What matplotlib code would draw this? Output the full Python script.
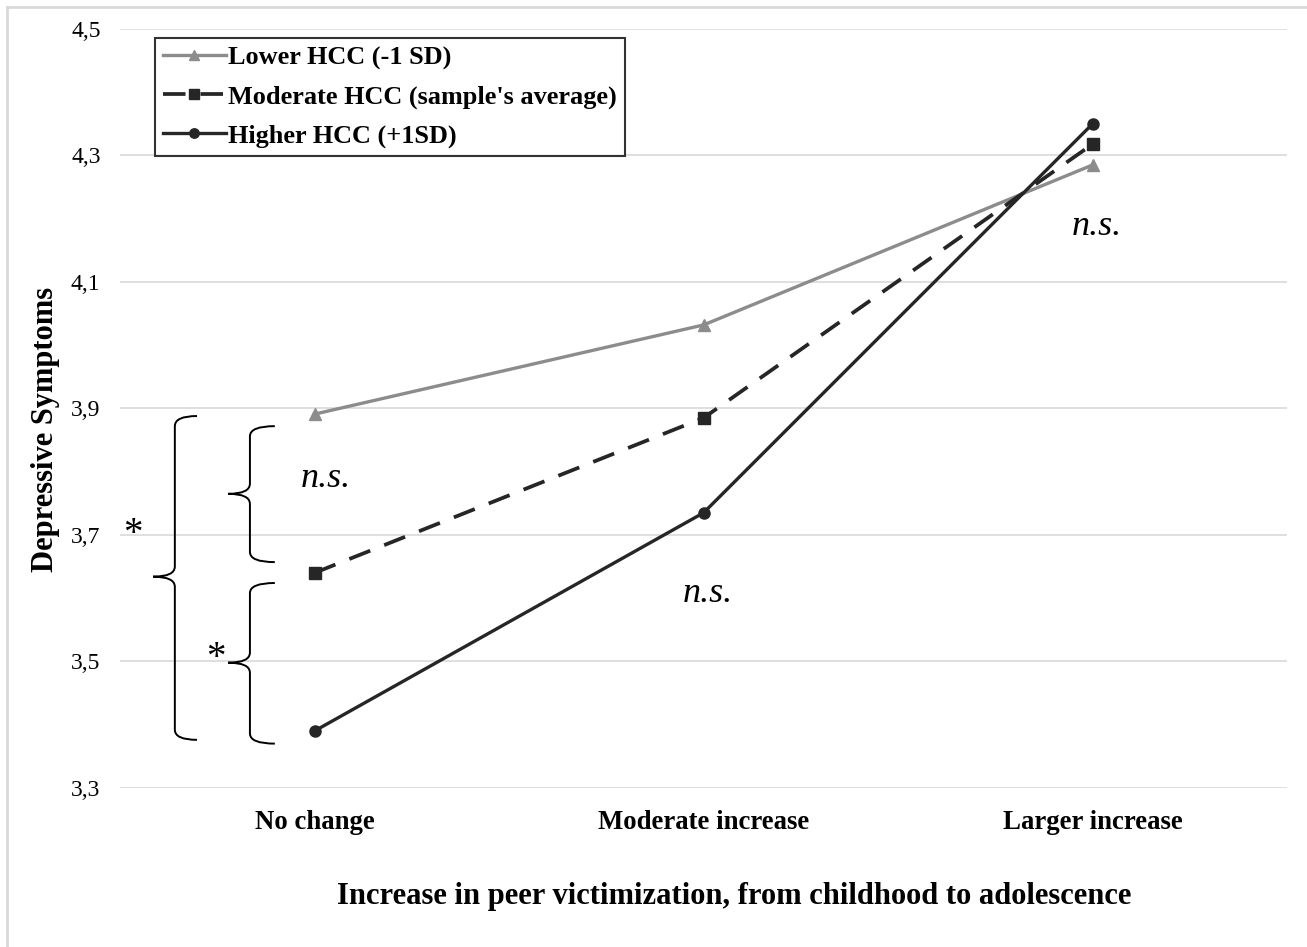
import matplotlib.pyplot as plt
from matplotlib.path import Path
from matplotlib.patches import PathPatch
from matplotlib.lines import Line2D

categories = ["No change", "Moderate increase", "Larger increase"]
lower_hcc = [3.891, 4.032, 4.285]
moderate_hcc = [3.640, 3.885, 4.318]
higher_hcc = [3.390, 3.735, 4.350]
series_labels = ["Lower HCC (-1 SD)", "Moderate HCC (sample's average)", "Higher HCC (+1SD)"]
y_ticks = [3.3, 3.5, 3.7, 3.9, 4.1, 4.3, 4.5]

plt.rcParams["font.family"] = ["Liberation Serif", "DejaVu Serif"]

fig = plt.figure(figsize=(13.07, 9.47), dpi=100, facecolor="white")
ax = fig.add_axes([0.0918, 0.168, 0.893, 0.8014])

x = list(range(len(categories)))
dark = "#262626"
grey = "#8c8c8c"
ax.plot(x, lower_hcc, color=grey, lw=2.4, marker="^", ms=8, label=series_labels[0], zorder=3)
ax.plot(x, moderate_hcc, color=dark, lw=2.7, ls=(0, (6, 4)), marker="s", ms=8, label=series_labels[1], zorder=3)
ax.plot(x, higher_hcc, color=dark, lw=2.4, marker="o", ms=8, label=series_labels[2], zorder=3)

ax.set_xlim(-0.5, 2.5)
ax.set_ylim(3.3, 4.5)
ax.set_yticks(y_ticks)
ax.set_yticklabels([f"{v:.1f}".replace(".", ",") for v in y_ticks], fontsize=17)
ax.set_xticks(x)
ax.set_xticklabels(categories, fontsize=19.3, fontweight="bold")
ax.tick_params(length=0)
ax.tick_params(axis="x", pad=16)
ax.tick_params(axis="y", pad=14)
ax.grid(axis="y", color="#d9d9d9", lw=1.2)
ax.set_axisbelow(True)
for s in ax.spines.values():
    s.set_visible(False)

ax.set_ylabel("Depressive Symptoms", fontsize=22, fontweight="bold")
ax.yaxis.set_label_coords(-0.051, 0.4717)
ax.set_xlabel("Increase in peer victimization, from childhood to adolescence",
              fontsize=22, fontweight="bold")
ax.xaxis.set_label_coords(0.5266, -0.124)

leg = ax.legend(loc="upper left", bbox_to_anchor=(0.03, 0.988),
                prop={"weight": "bold", "size": 18.9}, frameon=True, fancybox=False,
                edgecolor="black", handlelength=2.4, handletextpad=0.1,
                labelspacing=0.58, borderpad=0.3, borderaxespad=0, markerscale=0.85)
leg.get_frame().set_linewidth(1.5)


def brace(xv, xt, xm, ytop, ybot, ymid, r=0.016):
    verts = [(xt, ytop), (xv, ytop), (xv, ytop - r),
             (xv, ymid + r), (xv, ymid), (xm, ymid),
             (xv, ymid), (xv, ymid - r),
             (xv, ybot + r), (xv, ybot), (xt, ybot)]
    codes = [Path.MOVETO, Path.CURVE3, Path.CURVE3,
             Path.LINETO, Path.CURVE3, Path.CURVE3,
             Path.CURVE3, Path.CURVE3,
             Path.LINETO, Path.CURVE3, Path.CURVE3]
    ax.add_patch(PathPatch(Path(verts, codes), fill=False, lw=1.4, color="black", clip_on=False))


brace(-0.359, -0.302, -0.415, 3.888, 3.376, 3.634)
brace(-0.166, -0.102, -0.222, 3.872, 3.657, 3.765)
brace(-0.166, -0.102, -0.222, 3.624, 3.370, 3.498)

ax.text(-0.467, 3.700, "*", fontsize=28, ha="center", va="center")
ax.text(-0.254, 3.505, "*", fontsize=28, ha="center", va="center")
ax.text(0.03, 3.79, "n.s.", fontsize=26, style="italic", ha="center", va="center")
ax.text(1.01, 3.607, "n.s.", fontsize=26, style="italic", ha="center", va="center")
ax.text(2.01, 4.188, "n.s.", fontsize=26, style="italic", ha="center", va="center")

# light page border (left and top)
fig.add_artist(Line2D([7 / 1307, 7 / 1307], [0, 1 - 7 / 947], color="#d9d9d9", lw=2))
fig.add_artist(Line2D([7 / 1307, 1], [1 - 7 / 947, 1 - 7 / 947], color="#d9d9d9", lw=2))

fig.savefig("out.png", dpi=100, facecolor="white")
